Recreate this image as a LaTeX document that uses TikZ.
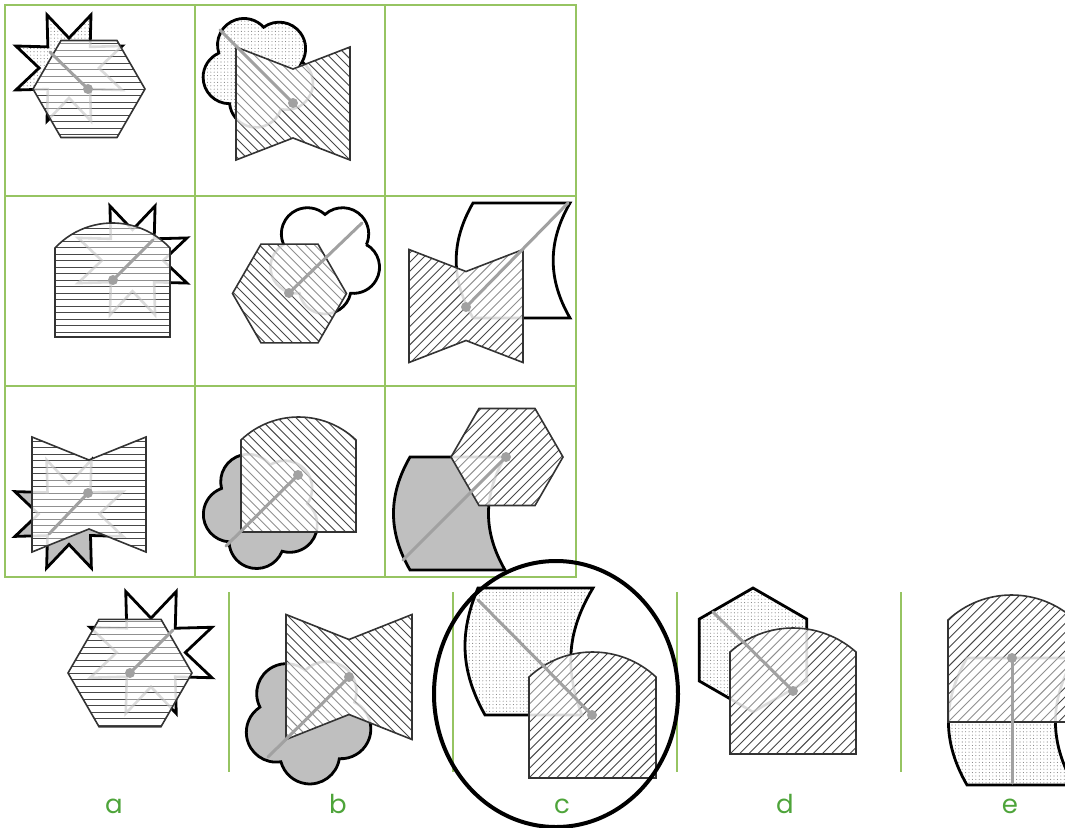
\documentclass[tikz,border=0pt]{standalone}
\usepackage{fontspec}
\setmainfont{Poppins}
\usetikzlibrary{patterns.meta}

\definecolor{gridgreen}{RGB}{150,196,98}
\definecolor{labelgreen}{RGB}{78,164,58}

% shape outlines (pixel units, y downwards)
\newcommand{\hexpath}[4]{([shift={(#1,#2)}]#4:#3) \foreach \k in {1,...,5}{ -- ([shift={(#1,#2)}]{#4+60*\k}:#3)} -- cycle}
\newcommand{\starpath}[4]{([shift={(#1,#2)}]#4:#3) \foreach \k in {1,...,8}{ -- ([shift={(#1,#2)}]{#4+45*\k-22.5}:{0.52*#3}) -- ([shift={(#1,#2)}]{#4+45*\k}:#3)} -- cycle}
\newcommand{\bowpath}[5]{({#1-#3},{#2-#4}) -- (#1,{#2-#4+#5}) -- ({#1+#3},{#2-#4}) -- ({#1+#3},{#2+#4}) -- (#1,{#2+#4-#5}) -- ({#1-#3},{#2+#4}) -- cycle}
\newcommand{\domepath}[5]{({#1-#3},#4) -- ({#1-#3},{#2+#5}) arc[start angle={-90-asin(2*#3*#5/(#3*#3+#5*#5))}, end angle={-90+asin(2*#3*#5/(#3*#3+#5*#5))}, radius={(#3*#3+#5*#5)/(2*#5)}] -- ({#1+#3},#4) -- cycle}
\newcommand{\cushpath}[5]{#4 to[bend left=#5] #1 -- #2 to[bend right=#5] #3 -- cycle}
\newcommand{\cloudpath}[4]{({#1+0.533*#3*cos(#4)+0.467*#3*cos(#4-78.1)},{#2+0.533*#3*sin(#4)+0.467*#3*sin(#4-78.1)}) \foreach \k in {0,...,4}{ arc[start angle={#4+72*\k-78.1}, delta angle=156.2, radius={0.467*#3}]} -- cycle}

% back shape, hatched front shape (lines at angle #3), hidden outline, axis
\newcommand{\pair}[6]{%
  \draw[backline,#1] #2;
  \fill[white] #4;
  \begin{scope}
    \clip #4;
    \begin{scope}[shift={#5}, rotate=#3]
      \foreach \i in {-15,...,15}
        \draw[hatchline] (-100,\i*6.5) -- (100,\i*6.5);
    \end{scope}
    \draw[ghost] #2;
  \end{scope}
  \draw[frontline] #4;
  \draw[axisline] #5 -- #6;
  \fill[black!37] #5 circle[radius=5];
}

\begin{document}
\begin{tikzpicture}[x=1pt, y=-1pt,
  backline/.style={draw=black, line width=2.8},
  frontline/.style={draw=black!80, line width=1.6},
  hatchline/.style={draw=black!72, line width=0.9},
  dotfill/.style={pattern={Dots[distance=3.4pt,radius=0.55pt]}, pattern color=black!50},
  grayfill/.style={fill=black!25},
  ghost/.style={draw=black!25, line width=2.6, draw opacity=0.55, fill=white, fill opacity=0.4},
  axisline/.style={draw=black!37, line width=3, line cap=round},
  gridline/.style={draw=gridgreen, line width=1.6},
  lbl/.style={text=labelgreen, anchor=base, font=\fontsize{26}{28}\selectfont}]
\useasboundingbox (0,0) rectangle (1065,827);

% Matrix grid
\draw[gridline] (5,5) rectangle (576,577);
\draw[gridline] (195,5) -- (195,577);
\draw[gridline] (385,5) -- (385,577);
\draw[gridline] (5,196) -- (576,196);
\draw[gridline] (5,386) -- (576,386);

% Row 1
\pair{dotfill}{\starpath{69}{68}{57.5}{22.5}}{0}{\hexpath{89}{89}{56}{0}}{(88,89)}{(50,52)}
\pair{dotfill}{\cloudpath{259}{71}{56.6}{24}}{-45}{\bowpath{293}{103.5}{57}{56.5}{22}}{(293,103)}{(220,30)}

% Row 2
\pair{}{\starpath{132.5}{260.5}{59}{22.5}}{0}{\domepath{112.5}{223}{57.5}{337}{25}}{(113,280)}{(153,240)}
\pair{}{\cloudpath{325}{258}{56}{18}}{-45}{\hexpath{289.5}{293.5}{57}{0}}{(289,293)}{(362,223)}
\pair{}{\cushpath{(473,203)}{(570,203)}{(570,318)}{(473,318)}{30}}{45}{\bowpath{466}{306}{57}{56.5}{22}}{(466,307)}{(568,203)}

% Row 3
\pair{grayfill}{\starpath{69}{514}{58.5}{22.5}}{0}{\bowpath{89}{494.5}{57}{57.5}{23}}{(88,493)}{(49,534)}
\pair{grayfill}{\cloudpath{262}{510}{59}{28}}{-45}{\domepath{298.5}{417}{57.5}{532}{23}}{(298,475)}{(226,546)}
\pair{grayfill}{\cushpath{(410,457)}{(505,457)}{(505,570)}{(410,570)}{30}}{45}{\hexpath{507}{457}{56}{0}}{(506,457)}{(403,560)}

% Answer separators
\foreach \sx in {229,453,677,901}
  \draw[gridline] (\sx,592) -- (\sx,772);

% Answers
\pair{}{\starpath{151}{652.5}{66}{22.5}}{0}{\hexpath{130}{673}{62}{0}}{(130,673)}{(173,630)}
\pair{grayfill}{\cloudpath{308}{720}{64}{15}}{-45}{\bowpath{349}{677}{63}{62.5}{25}}{(349,677)}{(268,757)}
\pair{dotfill}{\cushpath{(478,588)}{(593,588)}{(582,715)}{(485,715)}{26}}{45}{\domepath{592.5}{652}{63.5}{778}{25}}{(592,715)}{(478,600)}
\pair{dotfill}{\hexpath{753}{650}{62}{30}}{45}{\domepath{793}{628}{63}{754}{24}}{(793,691)}{(713,612)}
\pair{dotfill}{\cushpath{(967,658)}{(1074,658)}{(1074,785)}{(967,785)}{30}}{45}{\domepath{1011.5}{595}{63.5}{722}{25}}{(1012,658)}{(1012,783)}

% Labels
\node[lbl] (la) at (114,813) {a};
\node[lbl] (lb) at (338,813) {b};
\node[lbl] (lc) at (562,813) {c};
\node[lbl] (ld) at (785,813) {d};
\node[lbl] (le) at (1010,813) {e};

% Chosen answer
\draw[line width=4] (556,694) ellipse[x radius=122, y radius=133];
\end{tikzpicture}
\end{document}
